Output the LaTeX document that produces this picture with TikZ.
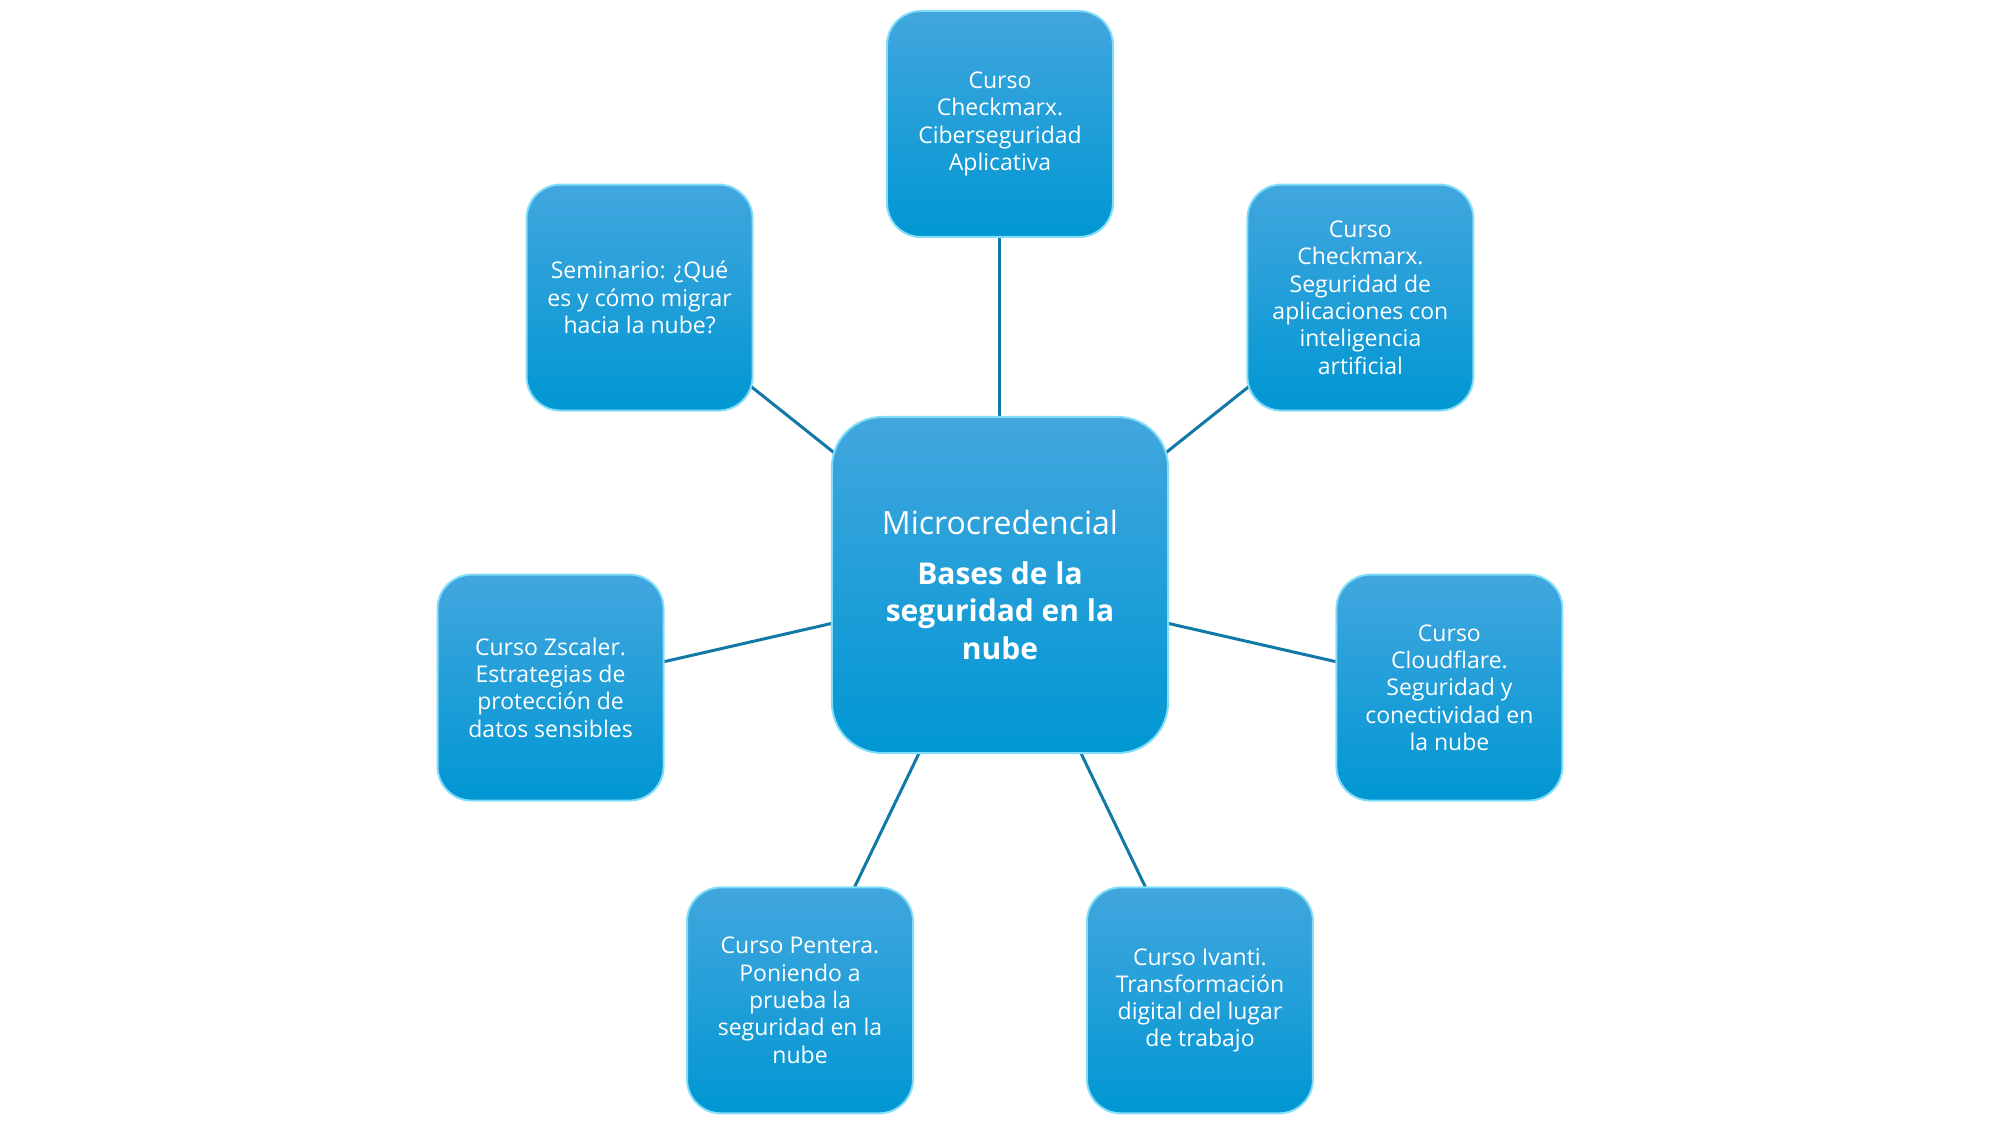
\documentclass[tikz,border=0pt]{standalone}
\usepackage{fontspec}
\setmainfont{Open Sans}
\usepackage{tikz}
\usetikzlibrary{backgrounds}
\definecolor{boxtop}{RGB}{66,166,222}
\definecolor{boxbot}{RGB}{0,151,211}
\definecolor{rim}{RGB}{130,222,248}
\definecolor{linkblue}{RGB}{18,120,165}
\tikzset{leaf/.style = {top color = boxtop, bottom color = boxbot, draw = rim, line width = 2pt, rounded corners = 34pt, minimum width = 226pt, minimum height = 226pt, inner sep = 0, align = center, text = white, font = \fontsize{23}{27.3}\selectfont}}
\tikzset{hub/.style = {leaf, rounded corners = 50pt, minimum width = 336pt, minimum height = 336pt, font = \bfseries\fontsize{30}{37.7}\selectfont}}
\tikzset{link/.style = {draw = linkblue, line width = 3pt}}

\begin{document}
\begin{tikzpicture}
    \useasboundingbox (-1000pt, -540pt) rectangle (1000pt, 585pt);

    \node [hub] (hub) at (0, 0) {{\mdseries\fontsize{32}{36}\selectfont Microcredencial}\\[12pt] Bases de la\\ seguridad en la\\ nube};

    \node [leaf] (checkmarxA) at (90:461pt) {Curso\\ Checkmarx.\\ Ciberseguridad\\ Aplicativa};
    \node [leaf] (checkmarxB) at (38.57:461pt) {Curso\\ Checkmarx.\\ Seguridad de\\ aplicaciones con\\ inteligencia\\ artificial};
    \node [leaf] (cloudflare) at (-12.86:461pt) {Curso\\ Cloudflare.\\ Seguridad y\\ conectividad en\\ la nube};
    \node [leaf] (ivanti) at (-64.29:461pt) {Curso Ivanti.\\ Transformación\\ digital del lugar\\ de trabajo};
    \node [leaf] (pentera) at (-115.71:461pt) {Curso Pentera.\\ Poniendo a\\ prueba la\\ seguridad en la\\ nube};
    \node [leaf] (zscaler) at (-167.14:461pt) {Curso Zscaler.\\ Estrategias de\\ protección de\\ datos sensibles};
    \node [leaf] (seminario) at (141.43:461pt) {Seminario: ¿Qué\\ es y cómo migrar\\ hacia la nube?};

    \begin{pgfonlayer}{background}
      \draw [link] (hub.center) -- (checkmarxA.center);
      \draw [link] (hub.center) -- (checkmarxB.center);
      \draw [link] (hub.center) -- (cloudflare.center);
      \draw [link] (hub.center) -- (ivanti.center);
      \draw [link] (hub.center) -- (pentera.center);
      \draw [link] (hub.center) -- (zscaler.center);
      \draw [link] (hub.center) -- (seminario.center);
    \end{pgfonlayer}
\end{tikzpicture}
\end{document}
